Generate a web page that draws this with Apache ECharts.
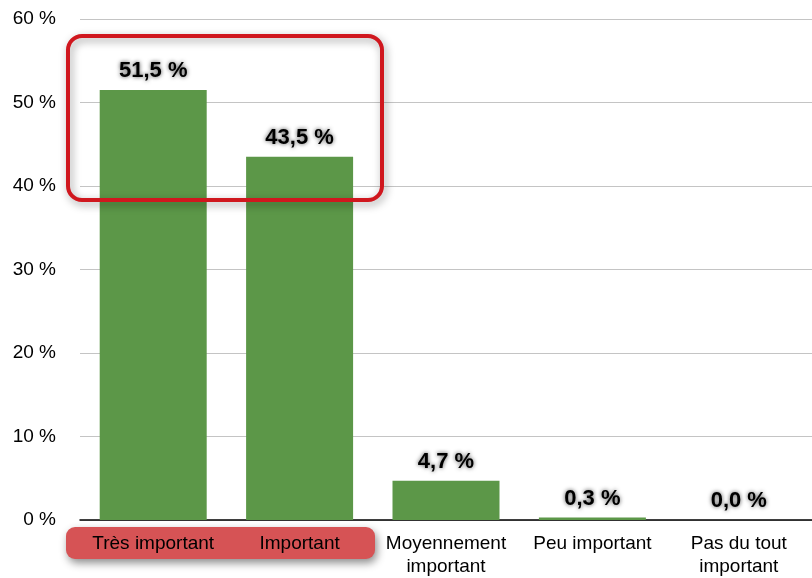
<!DOCTYPE html>
<html>
<head>
<meta charset="utf-8">
<script src="https://cdn.jsdelivr.net/npm/echarts@6/dist/echarts.min.js"></script>
<style>
  html, body { margin: 0; padding: 0; background: #fff; }
  #chart { width: 812px; height: 578px; }
</style>
</head>
<body>
<div id="chart"></div>
<script>
// données
const categories = ['Très important', 'Important', 'Moyennement\nimportant', 'Peu important', 'Pas du tout\nimportant']
const values = [51.5, 43.5, 4.7, 0.3, 0.0]
const yTicks = [0, 10, 20, 30, 40, 50, 60]

const BAR_COLOR = '#5c9748'
const FONT = '"Liberation Sans", Arial, sans-serif'

const chart = echarts.init(document.getElementById('chart'))

const options = {
  animation: false,
  grid: { left: 80, right: -3, top: 19, bottom: 58, containLabel: false },
  xAxis: {
    type: 'category',
    data: categories,
    axisTick: { show: false },
    axisLine: { lineStyle: { color: '#000', width: 1.5 } },
    axisLabel: {
      color: '#000',
      fontFamily: FONT,
      fontSize: 19,
      lineHeight: 23,
      margin: 12,
      interval: 0
    }
  },
  yAxis: {
    type: 'value',
    min: yTicks[0],
    max: yTicks[yTicks.length - 1],
    interval: 10,
    axisLine: { show: false },
    axisTick: { show: false },
    axisLabel: {
      color: '#000',
      fontFamily: FONT,
      fontSize: 19,
      margin: 24,
      formatter: v => v + ' %'
    },
    splitLine: { lineStyle: { color: '#c4c4c4', width: 1 } }
  },
  series: [{
    type: 'bar',
    data: values,
    barWidth: 107,
    itemStyle: { color: BAR_COLOR },
    label: {
      show: true,
      position: 'top',
      distance: 8,
      color: '#000',
      fontFamily: FONT,
      fontWeight: 'bold',
      fontSize: 22,
      textShadowColor: 'rgba(0,0,0,0.7)',
      textShadowBlur: 4,
      formatter: p => p.value.toFixed(1).replace('.', ',') + ' %'
    }
  }],
  graphic: [
    {
      type: 'rect',
      z: -1,
      shape: { x: 66, y: 527, width: 309, height: 32, r: 9 },
      style: {
        fill: '#d65355',
        shadowColor: 'rgba(0,0,0,0.45)',
        shadowBlur: 8,
        shadowOffsetX: 2,
        shadowOffsetY: 4
      }
    },
    {
      type: 'rect',
      z: 100,
      shape: { x: 68, y: 36, width: 314, height: 164, r: 14 },
      style: {
        fill: null,
        stroke: '#d0171e',
        lineWidth: 4,
        shadowColor: 'rgba(0,0,0,0.4)',
        shadowBlur: 8,
        shadowOffsetX: 2,
        shadowOffsetY: 3
      }
    }
  ]
}

chart.setOption(options)
</script>
</body>
</html>
